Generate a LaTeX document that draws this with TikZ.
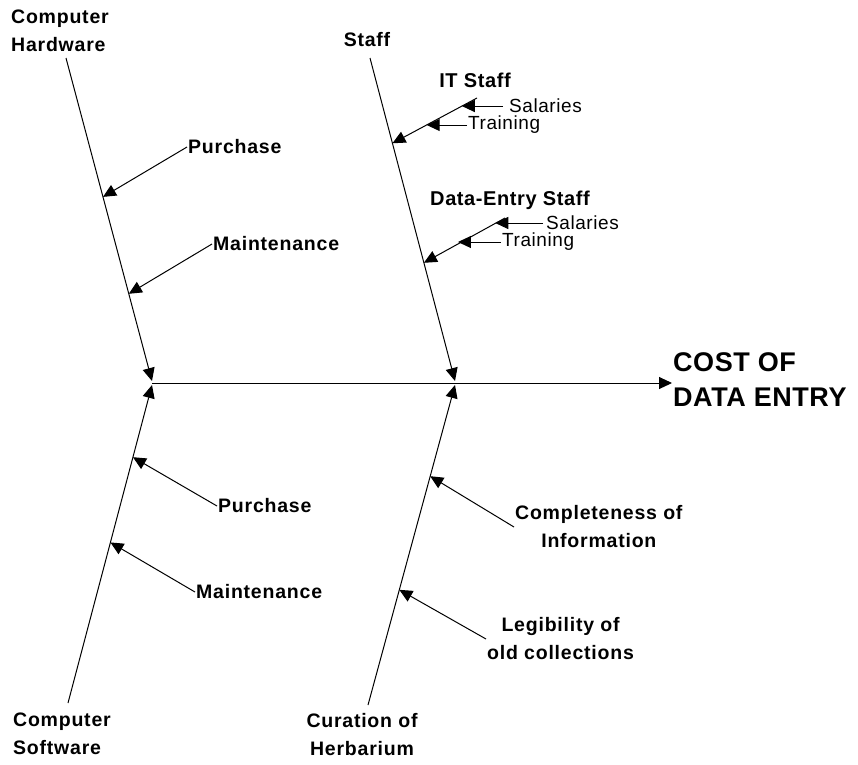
\documentclass[tikz,border=0pt]{standalone}
\usepackage{fontspec}
\setmainfont{Liberation Sans}
\usetikzlibrary{arrows.meta, calc}
\tikzstyle{cause} = [font=\fontsize{19.5}{28}\selectfont\bfseries\addfontfeatures{LetterSpace=4}, align=left, inner sep=1pt]
\tikzstyle{subcause} = [font=\fontsize{20}{24}\selectfont\bfseries\addfontfeatures{LetterSpace=3}, inner sep=1pt]
\tikzstyle{detail} = [font=\fontsize{19}{22}\selectfont\addfontfeatures{LetterSpace=3}, inner sep=1pt]
\tikzstyle{effect} = [font=\fontsize{27}{35}\selectfont\bfseries\addfontfeatures{LetterSpace=2}, align=left, inner sep=1pt]
\tikzstyle{arrow} = [line width=1pt, -{Triangle[length=13pt,width=12pt]}]

\begin{document}
\begin{tikzpicture}[x=1pt, y=-1pt]
                \useasboundingbox (0,0) rectangle (858,764);

                % effect and spine
                \coordinate (tail) at (152,383);
                \node (cost) [effect, anchor=west] at (672,380) {COST OF\\DATA ENTRY};
                \draw [arrow] (tail) -- (tail -| cost.west);

                % main causes
                \node (hw) [cause, anchor=west] at (10,31) {Computer\\Hardware};
                \node (staff) [cause] at (367,40) {Staff};
                \node (sw) [cause, anchor=west] at (12,734) {Computer\\Software};
                \node (cur) [cause, align=center] at (362,735) {Curation of\\Herbarium};

                \coordinate (hwtop) at (66,58);
                \coordinate (hwend) at (152,381);
                \coordinate (sttop) at (370,58);
                \coordinate (stend) at (455,381);
                \coordinate (swbot) at (68,703);
                \coordinate (swend) at (152,385);
                \coordinate (cubot) at (368,705);
                \coordinate (cuend) at (455,385);

                \draw [arrow] (hwtop) -- (hwend);
                \draw [arrow] (sttop) -- (stend);
                \draw [arrow] (swbot) -- (swend);
                \draw [arrow] (cubot) -- (cuend);

                % hardware
                \node (hwbuy) [cause, anchor=west] at (187,147) {Purchase};
                \node (hwfix) [cause, anchor=west] at (212,244) {Maintenance};
                \coordinate (hwa) at ($(hwtop)!0.43!(hwend)$);
                \coordinate (hwb) at ($(hwtop)!0.73!(hwend)$);
                \draw [arrow] (hwbuy.west) -- (hwa);
                \draw [arrow] (hwfix.west) -- (hwb);

                % software
                \node (swbuy) [cause, anchor=west] at (217,506) {Purchase};
                \node (swfix) [cause, anchor=west] at (195,592) {Maintenance};
                \coordinate (swa) at ($(swbot)!0.773!(swend)$);
                \coordinate (swb) at ($(swbot)!0.505!(swend)$);
                \draw [arrow] (swbuy.west) -- (swa);
                \draw [arrow] (swfix.west) -- (swb);

                % curation
                \node (compl) [cause, align=center, anchor=west] at (514,527) {Completeness of\\Information};
                \node (legib) [cause, align=center, anchor=west] at (486,639) {Legibility of\\old collections};
                \coordinate (cua) at ($(cubot)!0.715!(cuend)$);
                \coordinate (cub) at ($(cubot)!0.36!(cuend)$);
                \draw [arrow] (compl.west) -- (cua);
                \draw [arrow] (legib.west) -- (cub);

                % staff
                \node (it) [subcause] at (475,80) {IT Staff};
                \node (de) [subcause] at (510,200) {Data-Entry Staff};
                \coordinate (itstart) at (477,98);
                \coordinate (destart) at (505,218);
                \coordinate (ita) at ($(sttop)!0.264!(stend)$);
                \coordinate (dea) at ($(sttop)!0.634!(stend)$);
                \draw [arrow] (itstart) -- (ita);
                \draw [arrow] (destart) -- (dea);

                \node (itsal) [detail, anchor=west, inner xsep=6pt] at (503,106) {Salaries};
                \node (ittrain) [detail, anchor=west] at (467,125) {Training};
                \node (desal) [detail, anchor=west, inner xsep=3pt] at (543,223) {Salaries};
                \node (detrain) [detail, anchor=west] at (501,242) {Training};
                \coordinate (itsx) at ($(itstart)!0.18!(ita)$);
                \coordinate (itty) at ($(itstart)!0.595!(ita)$);
                \coordinate (desx) at ($(destart)!0.12!(dea)$);
                \coordinate (dety) at ($(destart)!0.58!(dea)$);
                \draw [arrow] (itsal.west) -- (itsal.west -| itsx);
                \draw [arrow] (ittrain.west) -- (ittrain.west -| itty);
                \draw [arrow] (desal.west) -- (desal.west -| desx);
                \draw [arrow] (detrain.west) -- (detrain.west -| dety);
            \end{tikzpicture}
\end{document}
